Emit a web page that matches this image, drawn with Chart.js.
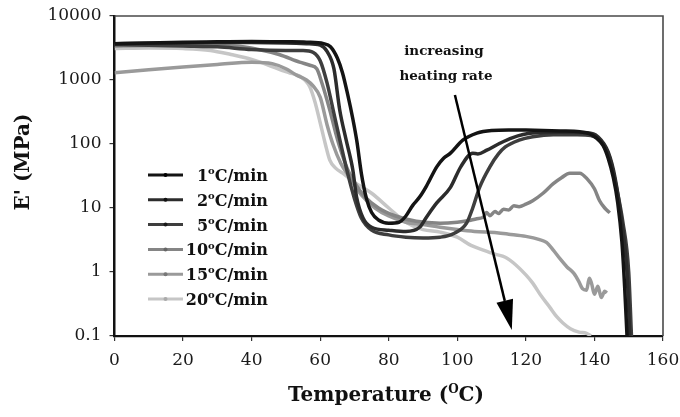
<!DOCTYPE html>
<html>
<head>
<meta charset="utf-8">
<script src="https://cdn.jsdelivr.net/npm/chart.js@4.4.1/dist/chart.umd.min.js"></script>
<style>
  html, body { margin: 0; padding: 0; background: #fff; }
</style>
</head>
<body>
<canvas id="chart" width="680" height="417"></canvas>
<script>
// heating rates (legend) and E' (MPa) vs temperature (C)
var rates = ['1', '2', '5', '10', '15', '20'];

var t1 = [0, 10, 20, 30, 40, 50, 56, 61, 63, 65, 66.5, 68, 69.5, 70.7, 72, 73.5, 75, 77, 80, 83, 85, 87, 89, 91, 94, 96, 98, 101.6, 105.7, 110, 115, 120, 125, 130, 135.7, 138.5, 140.5, 142.5, 144, 145.5, 146.8, 148, 148.8, 149.5];
var e1 = [3700, 3800, 3900, 3950, 4000, 3950, 3900, 3700, 3300, 2200, 1300, 600, 250, 110, 35, 14, 8.5, 6.5, 5.8, 6, 7.5, 11, 14.8, 22, 44, 60, 72, 115, 148, 163, 166, 165, 163, 160, 155, 145, 125, 95, 60, 30, 12, 3, 0.6, 0.1];

var t2 = [0, 10, 20, 30, 40, 50, 56, 60, 62, 64, 65.7, 67.5, 69.5, 70.6, 72.5, 75, 80, 85, 89, 91, 94, 98, 101, 104.5, 106, 108.6, 112, 116, 122, 130, 138, 141, 144, 146, 148, 149.5, 150.3];
var e2 = [3700, 3750, 3800, 3850, 3850, 3800, 3700, 3500, 2800, 1500, 340, 120, 40, 15, 7, 5, 4.5, 4.3, 5, 7.2, 12, 21, 44, 72, 70, 80, 100, 125, 148, 152, 150, 130, 75, 30, 6, 1, 0.1];

var t3 = [0, 10, 20, 30, 40, 50, 55, 58, 60, 62, 64, 66, 68, 70, 72, 75, 80, 85, 90, 95, 99, 102.7, 104.5, 106.5, 109.5, 112, 114, 118, 122, 128, 135, 139, 142, 144.5, 146.5, 148.3, 150, 150.8];
var e3 = [3600, 3500, 3400, 3300, 3000, 2900, 2900, 2700, 2000, 900, 300, 100, 35, 14, 7, 4.5, 3.8, 3.5, 3.4, 3.5, 4, 5.8, 10, 21, 44, 70, 90, 115, 130, 140, 140, 135, 110, 60, 20, 6, 1, 0.1];

var t10 = [0, 10, 20, 35, 42, 48, 54, 57, 59, 60.5, 62.8, 64.5, 65.7, 68, 70, 73, 77, 82, 88, 95, 100, 103, 105.7, 107.6, 108.5, 109.5, 111, 112, 113.5, 115, 116.5, 118, 120, 122, 125, 128, 130.5, 132.8, 135.7, 138, 140, 141.5, 143, 144.5];
var e10 = [3400, 3450, 3500, 3400, 3000, 2500, 1900, 1700, 1500, 900, 340, 150, 90, 40, 25, 15, 10, 7.5, 6.2, 5.8, 6, 6.3, 6.8, 7.2, 8.5, 7.6, 8.8, 8.2, 9.6, 9.3, 10.8, 10.5, 11.5, 13, 17, 24, 30, 35, 35, 28, 20, 13, 10, 8.4];

var t15 = [0, 10, 20, 30, 40, 46, 50, 53, 56, 58, 60, 62, 63.7, 66, 68.6, 72, 76, 80, 85, 90, 95, 100, 105, 111.5, 115, 120, 124, 126, 128, 130, 132, 134, 135.5, 136.5, 137.7, 138.5, 139.2, 140, 141, 142, 143, 143.6];
var e15 = [1300, 1450, 1600, 1750, 1900, 1800, 1500, 1200, 1000, 800, 540, 200, 100, 50, 30, 16, 10, 7.5, 6, 5.5, 5, 4.6, 4.3, 4.1, 3.9, 3.6, 3.2, 2.9, 2.2, 1.6, 1.2, 0.95, 0.7, 0.55, 0.52, 0.8, 0.65, 0.45, 0.6, 0.4, 0.5, 0.47];

var t20 = [0, 10, 20, 28, 34, 40, 45, 49, 51, 54, 55.5, 57, 58.5, 60, 61.5, 62.8, 64.5, 66.6, 70, 75, 80, 85, 90, 95, 100, 104, 107.6, 111, 114, 117, 120, 122, 124.5, 127, 129, 130.8, 133, 135.5, 137.7, 139];
var e20 = [3100, 3150, 3100, 2900, 2500, 2100, 1700, 1400, 1300, 1150, 1000, 780, 450, 215, 100, 56, 42, 35, 25, 17, 10, 6, 4.6, 4.2, 3.5, 2.6, 2.2, 1.9, 1.7, 1.3, 0.9, 0.67, 0.42, 0.28, 0.2, 0.16, 0.13, 0.115, 0.11, 0.1];

var xTicks = [0, 20, 40, 60, 80, 100, 120, 140, 160];
var yTicks = [0.1, 1, 10, 100, 1000, 10000];

var colors = ['#141414', '#2c2c2c', '#3e3e3e', '#858585', '#9a9a9a', '#c6c6c6'];
var dotColors = ['#000', '#111', '#1a1a1a', '#666', '#777', '#aaa'];

// arrow "increasing heating rate": from / to in data coords
var arrowFrom = { x: 99.3, y: 583 };
var arrowTo = { x: 115.9, y: 0.124 };

function pairs(xs, ys) {
    var out = [];
    for (var i = 0; i < xs.length; i++) out.push({ x: xs[i], y: ys[i] });
    return out;
}

var series = [[t1, e1], [t2, e2], [t3, e3], [t10, e10], [t15, e15], [t20, e20]];
var datasets = series.map(function (s, i) {
    return {
        label: rates[i],
        data: pairs(s[0], s[1]),
        borderColor: colors[i],
        borderWidth: 3.5,
        pointRadius: 0,
        cubicInterpolationMode: 'monotone',
        fill: false
    };
});

var SERIF = '"DejaVu Serif", "Liberation Serif", serif';

// draws text with a raised small "o" (degree sign as in the figure)
function drawSup(ctx, parts, x, y, align, size) {
    var big = 'bold ' + size + 'px ' + SERIF;
    var small = 'bold ' + Math.round(size * 0.62) + 'px ' + SERIF;
    var w = 0;
    parts.forEach(function (p) {
        ctx.font = p.sup ? small : big;
        w += ctx.measureText(p.t).width;
    });
    var cx = align === 'right' ? x - w : (align === 'center' ? x - w / 2 : x);
    ctx.textAlign = 'left';
    ctx.textBaseline = 'alphabetic';
    parts.forEach(function (p) {
        ctx.font = p.sup ? small : big;
        ctx.fillText(p.t, cx, p.sup ? y - size * 0.42 : y);
        cx += ctx.measureText(p.t).width;
    });
}

var extras = {
    id: 'extras',
    beforeDatasetsDraw: function (chart) {
        var ctx = chart.ctx, a = chart.chartArea;
        ctx.save();
        ctx.strokeStyle = '#4a4a4a';
        ctx.lineWidth = 1.6;
        ctx.beginPath();
        ctx.moveTo(a.left, a.top);
        ctx.lineTo(a.right, a.top);
        ctx.lineTo(a.right, a.bottom);
        ctx.stroke();
        ctx.restore();
    },
    afterDraw: function (chart) {
        var ctx = chart.ctx;
        var xs = chart.scales.x, ys = chart.scales.y;
        ctx.save();
        ctx.fillStyle = '#111';

        // y title
        ctx.save();
        ctx.translate(24, 162);
        ctx.rotate(-Math.PI / 2);
        ctx.font = 'bold 20px ' + SERIF;
        ctx.textAlign = 'center';
        ctx.textBaseline = 'middle';
        ctx.fillText("E' (MPa)", 0, 0);
        ctx.restore();

        // x title
        drawSup(ctx, [{ t: 'Temperature (' }, { t: 'O', sup: true }, { t: 'C)' }], 386, 401, 'center', 20);

        // legend
        for (var i = 0; i < rates.length; i++) {
            var ly = 175 + i * 24.8;
            ctx.strokeStyle = colors[i];
            ctx.lineWidth = 3;
            ctx.beginPath();
            ctx.moveTo(148, ly);
            ctx.lineTo(183, ly);
            ctx.stroke();
            ctx.fillStyle = dotColors[i];
            ctx.beginPath();
            ctx.arc(165.5, ly, 2, 0, Math.PI * 2);
            ctx.fill();
            ctx.fillStyle = '#111';
            drawSup(ctx, [{ t: rates[i] }, { t: 'o', sup: true }, { t: 'C/min' }], 268, ly + 6, 'right', 16);
        }

        // annotation
        ctx.font = 'bold 13.5px ' + SERIF;
        ctx.textAlign = 'center';
        ctx.textBaseline = 'middle';
        ctx.fillText('increasing', 444, 51);
        ctx.fillText('heating rate', 446, 76);

        var x0 = xs.getPixelForValue(arrowFrom.x), y0 = ys.getPixelForValue(arrowFrom.y);
        var x1 = xs.getPixelForValue(arrowTo.x), y1 = ys.getPixelForValue(arrowTo.y);
        var ang = Math.atan2(y1 - y0, x1 - x0);
        var hl = 30, hw = 8.5;
        var bx = x1 - hl * Math.cos(ang), by = y1 - hl * Math.sin(ang);
        ctx.strokeStyle = '#000';
        ctx.lineWidth = 2.5;
        ctx.beginPath();
        ctx.moveTo(x0, y0);
        ctx.lineTo(bx, by);
        ctx.stroke();
        ctx.fillStyle = '#000';
        ctx.beginPath();
        ctx.moveTo(x1, y1);
        ctx.lineTo(bx + hw * Math.sin(ang), by - hw * Math.cos(ang));
        ctx.lineTo(bx - hw * Math.sin(ang), by + hw * Math.cos(ang));
        ctx.closePath();
        ctx.fill();
        ctx.restore();
    }
};

var ctx = document.getElementById('chart').getContext('2d');
var chart = new Chart(ctx, {
    type: 'line',
    data: { datasets: datasets },
    plugins: [extras],
    options: {
        responsive: false,
        animation: false,
        layout: { padding: { top: 16, right: 17, left: 0, bottom: 0 } },
        plugins: { legend: { display: false }, tooltip: { enabled: false } },
        scales: {
            x: {
                type: 'linear',
                min: 0,
                max: 160,
                afterFit: function (s) { s.height = 81; s.paddingLeft = 0; s.paddingRight = 0; },
                afterBuildTicks: function (s) { s.ticks = xTicks.map(function (v) { return { value: v }; }); },
                grid: { drawOnChartArea: false, tickLength: 5, color: '#333', lineWidth: 1.2 },
                border: { color: '#111', width: 2.2 },
                ticks: { padding: 9, color: '#1a1a1a', font: { family: SERIF, size: 17 } }
            },
            y: {
                type: 'logarithmic',
                min: 0.1,
                max: 10000,
                afterFit: function (s) { s.width = 114.5; s.paddingTop = 0; s.paddingBottom = 0; },
                afterBuildTicks: function (s) { s.ticks = yTicks.map(function (v) { return { value: v }; }); },
                grid: { drawOnChartArea: false, tickLength: 5, color: '#333', lineWidth: 1.2 },
                border: { color: '#111', width: 2.5 },
                ticks: {
                    padding: 8,
                    color: '#1a1a1a',
                    font: { family: SERIF, size: 17 },
                    callback: function (v) { return String(v); }
                }
            }
        }
    }
});
</script>
</body>
</html>
